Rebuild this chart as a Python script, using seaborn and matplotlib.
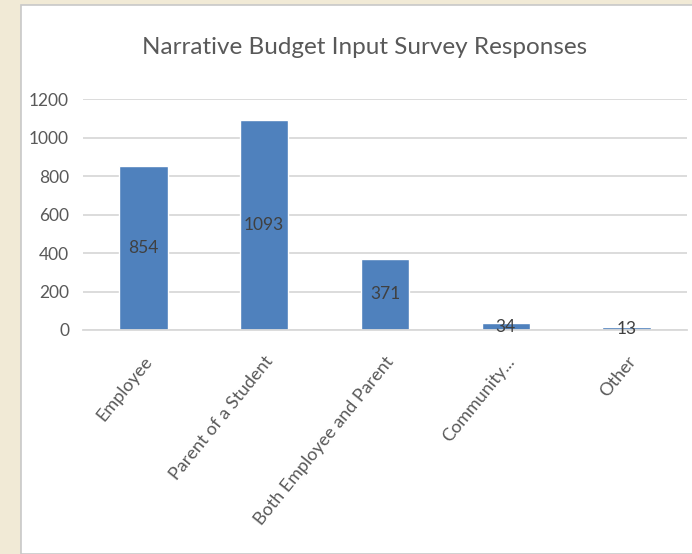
import matplotlib
matplotlib.use("Agg")
import matplotlib.pyplot as plt
import seaborn as sns
import pandas as pd
from matplotlib.patches import Rectangle

categories = ["Employee", "Parent of a Student", "Both Employee and Parent",
              "Community...", "Other"]
responses = [854, 1093, 371, 34, 13]
yticks = [0, 200, 400, 600, 800, 1000, 1200]

sns.set_theme(style="white")
plt.rcParams['font.family'] = ['Lato', 'DejaVu Sans']

df = pd.DataFrame({"category": categories, "responses": responses})

fig = plt.figure(figsize=(6.92, 5.54), dpi=100)
fig.patch.set_facecolor("#F1EAD6")
# white slide panel behind the chart
panel = Rectangle((21 / 692, 0), 1, 1 - 5 / 554, transform=fig.transFigure,
                  facecolor="white", edgecolor="#C8C8C8", linewidth=1.2, zorder=-5)
fig.add_artist(panel)

ax = fig.add_axes([83 / 692, 1 - 330 / 554, 604 / 692, 231 / 554])
ax.set_zorder(2)
ax.set_facecolor("none")
sns.barplot(data=df, x="category", y="responses", color="#4F81BD", saturation=1,
            width=0.4, ax=ax, zorder=2)

ax.set_ylim(0, 1200)
ax.set_yticks(yticks)
ax.set_yticklabels([str(v) for v in yticks], fontsize=12.5, color="#595959")
ax.yaxis.grid(True, color="#D9D9D9", linewidth=1.3, zorder=0)
ax.set_axisbelow(True)
for s in ["top", "right", "left"]:
    ax.spines[s].set_visible(False)
ax.spines["bottom"].set_color("#D9D9D9")
ax.spines["bottom"].set_linewidth(1.3)
ax.tick_params(axis="both", length=0, pad=10)

ax.set_xticks(range(len(categories)))
ax.set_xticklabels(categories, rotation=51, ha="right", rotation_mode="anchor",
                   fontsize=13, color="#595959")
ax.tick_params(axis="x", pad=17)
ax.set_xlabel("")
ax.set_ylabel("")

# value labels at bar centers
for i, v in enumerate(responses):
    ax.text(i, v / 2, str(v), ha="center", va="center", fontsize=12.5,
            color="#404040", zorder=3)

fig.text(365 / 692, 1 - 48 / 554, "Narrative Budget Input Survey Responses",
         ha="center", va="center", fontsize=17.5, color="#595959")

fig.savefig("out.png", dpi=100, facecolor=fig.get_facecolor())
